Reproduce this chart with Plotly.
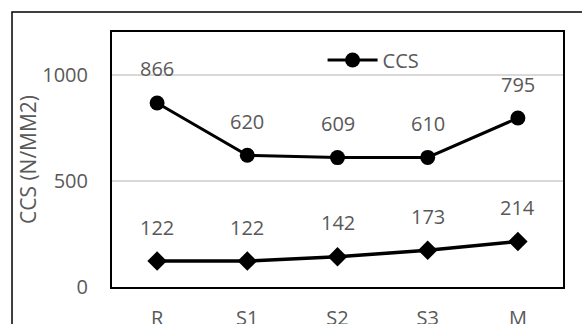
import plotly.graph_objects as go

# Categories and measured values
categories = ["R", "S1", "S2", "S3", "M"]
ccs_values = [866, 620, 609, 610, 795]
second_values = [122, 122, 142, 173, 214]

y_ticks = [0, 500, 1000]

FONT = "Open Sans"
TEXT_GRAY = "#595959"
FS = 20

fig = go.Figure()

fig.add_trace(go.Scatter(
    x=categories, y=ccs_values, name="CCS", mode="lines+markers",
    line=dict(color="black", width=3),
    marker=dict(symbol="circle", size=15, color="black"),
))

fig.add_trace(go.Scatter(
    x=categories, y=second_values, name="", mode="lines+markers",
    showlegend=False,
    line=dict(color="black", width=3.5),
    marker=dict(symbol="diamond", size=15, color="black"),
))

# Value labels above each point
annotations = []
for series in (ccs_values, second_values):
    for cat, val in zip(categories, series):
        annotations.append(dict(
            x=cat, y=val, xref="x", yref="y", text=str(val),
            showarrow=False, yshift=34,
            font=dict(family=FONT, size=FS, color=TEXT_GRAY),
        ))

fig.update_layout(
    width=582, height=324,
    margin=dict(l=112, r=19, t=32, b=37),
    paper_bgcolor="white", plot_bgcolor="white",
    font=dict(family=FONT, size=FS, color=TEXT_GRAY),
    annotations=annotations,
    legend=dict(
        x=0.58, y=0.89, xanchor="center", yanchor="middle",
        bgcolor="rgba(0,0,0,0)", font=dict(family=FONT, size=FS, color=TEXT_GRAY),
        itemwidth=50,
    ),
    xaxis=dict(
        type="category", range=[-0.5, 4.5], automargin=False,
        showgrid=False, zeroline=False,
        showline=True, linecolor="black", linewidth=2, mirror=True,
        ticks="outside", ticklen=12, tickcolor="rgba(0,0,0,0)",
        tickfont=dict(family=FONT, size=FS, color=TEXT_GRAY),
    ),
    yaxis=dict(
        range=[0, 1200], tickvals=y_ticks, automargin=False,
        showgrid=True, gridcolor="#d9d9d9", gridwidth=1.5, zeroline=False,
        showline=True, linecolor="black", linewidth=2, mirror=True,
        ticks="outside", ticklen=18, tickcolor="rgba(0,0,0,0)",
        tickfont=dict(family=FONT, size=FS, color=TEXT_GRAY),
        title=dict(text="CCS (N/MM2)", font=dict(family=FONT, size=21, color=TEXT_GRAY), standoff=0),
    ),
    shapes=[
        # Outer chart frame (top and left edges visible)
        dict(type="rect", xref="paper", yref="paper",
             x0=-0.2217, x1=1.3, y0=-0.5, y1=1.0784,
             line=dict(color="black", width=1.5), fillcolor="rgba(0,0,0,0)", layer="below"),
    ],
)

fig.write_html("out.html")
